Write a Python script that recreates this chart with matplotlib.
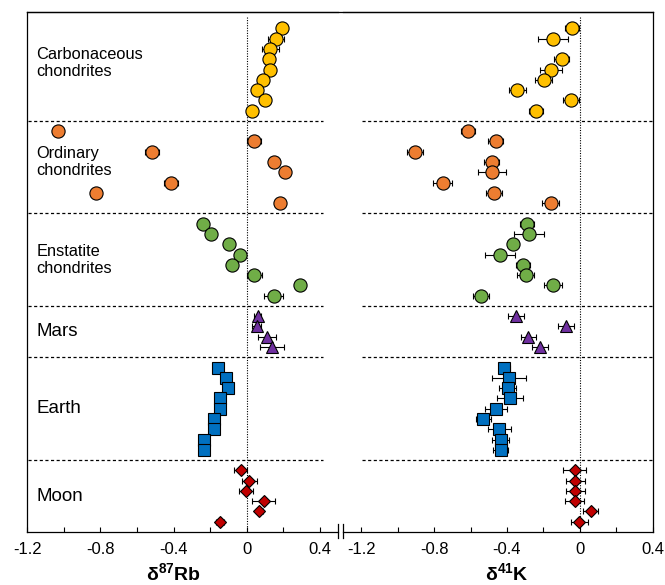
import numpy as np
import matplotlib.pyplot as plt
from matplotlib.lines import Line2D
from matplotlib.ticker import MultipleLocator

plt.rcParams['font.family'] = ['Liberation Sans', 'DejaVu Sans']
plt.rcParams['mathtext.fontset'] = 'custom'
plt.rcParams['mathtext.rm'] = 'Liberation Sans'
plt.rcParams['mathtext.bf'] = 'Liberation Sans:bold'

nan = np.nan

groups = ['Carbonaceous\nchondrites', 'Ordinary\nchondrites', 'Enstatite\nchondrites',
          'Mars', 'Earth', 'Moon']

# delta 87Rb and delta 41K per sample (permil), with 2SD errors
rb_cc = [0.193, 0.161, 0.130, 0.124, 0.130, 0.087, 0.055, 0.100, 0.030]
rb_cc_err = [0.02, 0.044, 0.045, 0.02, 0.02, 0.02, 0.02, 0.02, 0.02]
k_cc = [-0.042, -0.146, nan, -0.100, -0.160, -0.199, -0.343, -0.048, -0.239]
k_cc_err = [0.038, 0.083, nan, 0.042, 0.06, 0.046, 0.047, 0.046, 0.039]

rb_oc = [-1.033, 0.040, -0.519, 0.148, 0.210, -0.413, -0.827, 0.183]
rb_oc_err = [0.02, 0.036, 0.038, 0.02, 0.02, 0.04, 0.025, 0.025]
k_oc = [-0.615, -0.462, -0.905, -0.484, -0.484, -0.752, -0.471, -0.160]
k_oc_err = [0.037, 0.043, 0.044, 0.04, 0.077, 0.053, 0.046, 0.046]

rb_ec = [-0.240, -0.195, -0.095, -0.034, -0.080, 0.042, 0.293, 0.148]
rb_ec_err = [0.02, 0.02, 0.02, 0.02, 0.02, 0.04, 0.02, 0.053]
k_ec = [-0.290, -0.279, -0.367, -0.436, -0.310, -0.297, -0.146, -0.542]
k_ec_err = [0.037, 0.084, 0.03, 0.082, 0.039, 0.047, 0.05, 0.043]

rb_mars = [0.060, 0.055, 0.111, 0.139]
rb_mars_err = [0.02, 0.025, 0.048, 0.065]
k_mars = [-0.352, -0.077, -0.283, -0.217]
k_mars_err = [0.044, 0.044, 0.041, 0.044]

rb_earth = [-0.155, -0.115, -0.102, -0.148, -0.148, -0.178, -0.178, -0.231, -0.231]
rb_earth_err = [0.02] * 9
k_earth = [-0.416, -0.389, -0.396, -0.383, -0.462, -0.530, -0.442, -0.434, -0.434]
k_earth_err = [0.03, 0.092, 0.047, 0.071, 0.06, 0.042, 0.063, 0.046, 0.04]

rb_moon = [-0.033, 0.015, -0.003, 0.093, 0.069, -0.145]
rb_moon_err = [0.035, 0.042, 0.039, 0.062, 0.02, 0.02]
k_moon = [-0.029, -0.024, -0.024, -0.029, 0.059, -0.002]
k_moon_err = [0.061, 0.051, 0.054, 0.053, 0.041, 0.048]

rb_data = [(rb_cc, rb_cc_err), (rb_oc, rb_oc_err), (rb_ec, rb_ec_err),
           (rb_mars, rb_mars_err), (rb_earth, rb_earth_err), (rb_moon, rb_moon_err)]
k_data = [(k_cc, k_cc_err), (k_oc, k_oc_err), (k_ec, k_ec_err),
          (k_mars, k_mars_err), (k_earth, k_earth_err), (k_moon, k_moon_err)]

colors = ['#FFC000', '#ED7D31', '#70AD47', '#7030A0', '#0070C0', '#C00000']
markers = ['o', 'o', 'o', '^', 's', 'D']
msizes = [9.5, 9.5, 9.5, 9, 8, 6.2]

# one row per sample, one empty row between groups
rows, seps = [], []
sep = 0.6
for vals, _ in rb_data:
    n = len(vals)
    rows.append(sep + 1 + np.arange(n))
    sep = sep + n + 1
    seps.append(sep)
bottom = seps[-1]

fig = plt.figure(figsize=(6.65, 5.85), dpi=100)
ax1 = fig.add_axes([0.0411, 0.0906, 0.4672, 0.8889])
ax2 = fig.add_axes([0.5158, 0.0906, 0.4657, 0.8889])


def panel(ax, data, xlim, hline_end):
    ax.set_xlim(*xlim)
    ax.set_ylim(bottom, 0)
    ax.vlines(0, 0.5, bottom, colors='black', linestyles=(0, (1, 1.3)), linewidth=0.8, zorder=1)
    for s in seps[:-1]:
        ax.hlines(s, -1.195, hline_end, colors='black', linestyles=(0, (2.5, 2)),
                  linewidth=0.9, zorder=1)
    for (vals, errs), y, c, m, ms in zip(data, rows, colors, markers, msizes):
        ax.errorbar(vals, y, xerr=errs, fmt=m, ms=ms, mfc=c, mec='black', mew=0.8,
                    ecolor='black', elinewidth=0.8, capsize=2.5, capthick=0.8, zorder=3)
    ax.xaxis.set_major_locator(MultipleLocator(0.4))
    ax.xaxis.set_minor_locator(MultipleLocator(0.2))
    ax.xaxis.set_major_formatter(lambda v, p: '0' if abs(v) < 1e-9 else f'{v:.1f}')
    ax.tick_params(axis='x', which='both', direction='in', length=3.5, width=0.8,
                   labelsize=12, pad=7, top=False)
    ax.set_yticks([])
    for sp in ax.spines.values():
        sp.set_linewidth(0.9)


panel(ax1, rb_data, (-1.2, 0.5), 0.42)
panel(ax2, k_data, (-1.3, 0.4), 0.4)
ax1.spines['right'].set_visible(False)
ax2.spines['left'].set_visible(False)

ax1.set_xlabel(r'$\mathbf{δ^{87}Rb}$', fontsize=14)
ax1.xaxis.set_label_coords(0.4706, -0.058)
ax2.set_xlabel(r'$\mathbf{δ^{41}K}$', fontsize=14)
ax2.xaxis.set_label_coords(0.5294, -0.058)

# group names
offsets = [-0.6, -0.5, 0, 0, 0, 0]
tops = [0.6] + seps[:-1]
for name, t, s, off in zip(groups, tops, seps, offsets):
    fs = 11.8 if '\n' in name else 13.5
    ax1.text(-1.15, (t + s) / 2 + off, name, fontsize=fs, ha='left', va='center',
             linespacing=1.15)

# continuous top frame and axis break marks
fig.add_artist(Line2D([27.3 / 665, 652.7 / 665], [1 - 12 / 585] * 2, color='black', lw=0.9))
for xb in (338.3, 343.3):
    fig.add_artist(Line2D([xb / 665] * 2, [1 - 524 / 585, 1 - 538 / 585], color='black', lw=0.9))

fig.savefig('out.png', dpi=100)
